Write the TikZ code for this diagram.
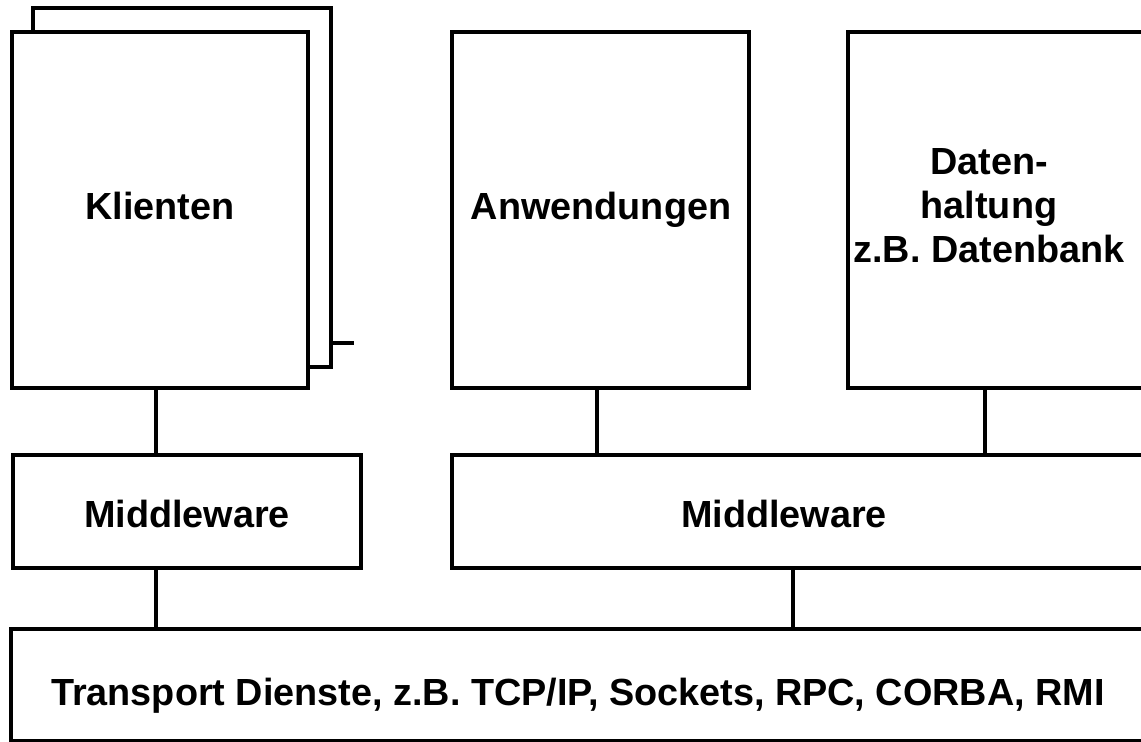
\documentclass[tikz,border=0pt]{standalone}
\usepackage{fontspec}
\setmainfont{Liberation Sans}
\usepackage{tikz}

\tikzset{
    box/.style={draw, line width=2pt, inner sep=0pt, fill=white},
    lbl/.style={font=\bfseries\fontsize{18.9}{22}\selectfont, anchor=base, align=center, inner sep=0pt},
    link/.style={line width=2pt}
}

\begin{document}
\begin{tikzpicture}[x=0.5pt, y=-0.5pt]
        \useasboundingbox (0, 0) rectangle (1141, 742);
        \clip (0, 0) rectangle (1141, 742);

        \node[box, minimum width=149pt, minimum height=179.5pt] (klientback) at (182, 187.5) {};
        \node[box, minimum width=148pt, minimum height=178pt] (klient) at (160, 210) {};
        \node[box, minimum width=148.5pt, minimum height=178pt] (anw) at (600.5, 210) {};
        \node[box, minimum width=148.5pt, minimum height=178pt] (daten) at (996.5, 210) {};
        \node[box, minimum width=174pt, minimum height=56.5pt] (mwl) at (187, 511.5) {};
        \node[box, minimum width=349pt, minimum height=56.5pt] (mwr) at (801, 511.5) {};
        \node[box, minimum width=569.5pt, minimum height=56pt] (trans) at (580.5, 685) {};

        \coordinate (stub) at (354, 343);
        \draw[link] (stub -| klientback.east) -- (stub);

        \node[lbl] (klientlbl) at (160, 220) {Klienten};
        \node[lbl] (anwlbl) at (601, 220) {Anwendungen};
        \node[lbl] (datenlbl) at (989, 263) {Daten-\\haltung\\z.B. Datenbank};
        \node[lbl] (mwllbl) at (187, 528) {Middleware};
        \node[lbl] (mwrlbl) at (784, 528) {Middleware};
        \node[lbl] (translbl) at (578, 706) {Transport Dienste, z.B. TCP/IP, Sockets, RPC, CORBA, RMI};

        % verbindungen
        \draw[link] ([xshift=-2pt]klient.south) -- ([xshift=-2pt]klient.south |- mwl.north);
        \draw[link] ([xshift=-1.75pt]anw.south) -- ([xshift=-1.75pt]anw.south |- mwr.north);
        \draw[link] ([xshift=-5.75pt]daten.south) -- ([xshift=-5.75pt]daten.south |- mwr.north);
        \draw[link] ([xshift=-15.5pt]mwl.south) -- ([xshift=-15.5pt]mwl.south |- trans.north);
        \draw[link] ([xshift=-4pt]mwr.south) -- ([xshift=-4pt]mwr.south |- trans.north);

    \end{tikzpicture}
\end{document}
